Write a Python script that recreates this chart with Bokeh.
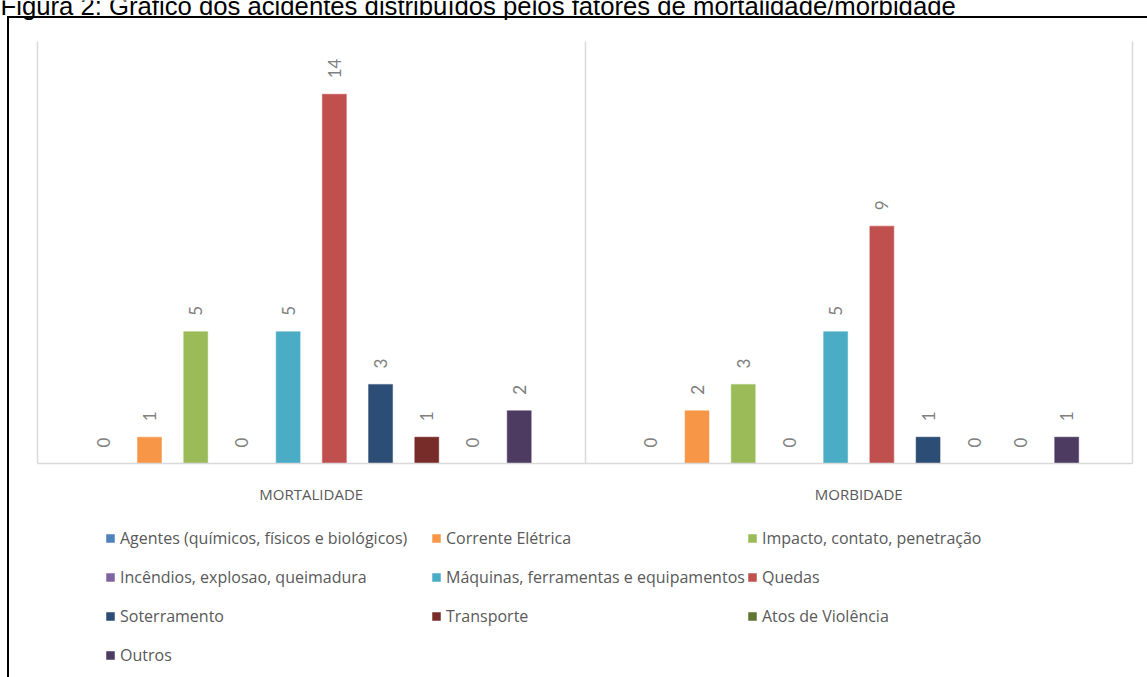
import math
from bokeh.plotting import figure
from bokeh.models import (ColumnDataSource, Range1d, FixedTicker, Legend, LegendItem,
                          InlineStyleSheet, Label)
from bokeh.core.properties import value
from bokeh.embed import file_html
from bokeh.resources import INLINE

# ---- data ----
title_text = "Figura 2: Gráfico dos acidentes distribuídos pelos fatores de mortalidade/morbidade"
categories = ["MORTALIDADE", "MORBIDADE"]
series = [
    "Agentes (químicos, físicos e biológicos)",
    "Corrente Elétrica",
    "Impacto, contato, penetração",
    "Incêndios, explosao, queimadura",
    "Máquinas, ferramentas e equipamentos",
    "Quedas",
    "Soterramento",
    "Transporte",
    "Atos de Violência",
    "Outros",
]
colors = ["#4F81BD", "#F79646", "#9BBB59", "#8064A2", "#4BACC6",
          "#C0504D", "#2C4D75", "#772C2A", "#5F7530", "#4D3B62"]
mortalidade = [0, 1, 5, 0, 5, 14, 3, 1, 0, 2]
morbidade = [0, 2, 3, 0, 5, 9, 1, 0, 0, 1]
y_max = 16

FONT = "Lato"
LEG_FONT = "Open Sans"
GRAY_TXT = "#595959"

# ---- page geometry (pixels) ----
W, H = 1147, 677
PLOT_L, PLOT_R = 37, 1132      # category area left / right
BASE_Y, TOP_Y = 463, 41        # baseline and top of value area
ncat = len(categories)
cat_px = (PLOT_R - PLOT_L) / ncat
px_per_unit = (BASE_Y - TOP_Y) / y_max

frame_css = InlineStyleSheet(css="""
:host { position: relative; }
:host::after { content: ""; position: absolute; left: 7px; top: 16px; right: 0; bottom: 0;
  border-left: 2px solid #000; border-top: 2px solid #000; pointer-events: none; }
""")

p = figure(width=W, height=H, output_backend="svg", toolbar_location=None,
           x_range=Range1d(-PLOT_L / cat_px, ncat + (W - PLOT_R) / cat_px),
           y_range=Range1d(-(H - BASE_Y) / px_per_unit, BASE_Y / px_per_unit),
           min_border=0)
p.stylesheets = [frame_css]
p.outline_line_color = None
p.background_fill_color = "white"
p.border_fill_color = "white"

# grouped bars inside each category
n = len(series)
pad = 0.078
step = (1 - 2 * pad) / n
bw = 0.0438

renderers = []
for i, name in enumerate(series):
    xs = [c + pad + step * (i + 0.5) for c in range(ncat)]
    vals = [mortalidade[i], morbidade[i]]
    src = ColumnDataSource(dict(x=xs, top=vals, lab=[str(v) for v in vals]))
    r = p.vbar(x="x", top="top", width=bw, bottom=0, source=src,
               fill_color=colors[i], line_color=colors[i], line_width=0.5)
    renderers.append(r)
    p.text(x="x", y="top", text="lab", source=src, angle=math.pi / 2,
           y_offset=-16, text_align="left", text_baseline="middle",
           text_font=value(FONT), text_font_size="17px", text_color="#808080")

# axes
p.yaxis.visible = False
p.ygrid.visible = False
p.xaxis.fixed_location = 0
p.xaxis.bounds = (0, ncat)
p.xaxis.ticker = FixedTicker(ticks=[0.5 + k for k in range(ncat)])
p.xaxis.major_label_overrides = {0.5 + k: c for k, c in enumerate(categories)}
p.xaxis.axis_line_color = "#d9d9d9"
p.xaxis.axis_line_width = 1.5
p.xaxis.major_tick_line_color = None
p.xaxis.minor_tick_line_color = None
p.xaxis.major_tick_out = 0
p.xaxis.major_label_standoff = 20
p.xaxis.major_label_text_font = LEG_FONT
p.xaxis.major_label_text_font_size = "15px"
p.xaxis.major_label_text_color = GRAY_TXT
p.xgrid.ticker = FixedTicker(ticks=list(range(ncat + 1)))
p.xgrid.grid_line_color = "#d9d9d9"
p.xgrid.grid_line_width = 1.5
p.xgrid.cross_bounds = (0, y_max)

# legends: three columns, row-major order as in reference
col_x = [105, 431, 747]
LEG_TOP = 527
ITEM_H, GAP = 22, 17
for c in range(3):
    idx = list(range(c, n, 3))
    items = [LegendItem(label=series[k], renderers=[renderers[k]]) for k in idx]
    h = len(idx) * ITEM_H + (len(idx) - 1) * GAP
    leg = Legend(items=items, location=(col_x[c], H - LEG_TOP - h),
                 orientation="vertical", border_line_color=None,
                 background_fill_alpha=0, padding=0, margin=0, spacing=GAP,
                 label_height=ITEM_H, glyph_height=10, glyph_width=10, label_standoff=5,
                 label_text_font=LEG_FONT, label_text_font_size="16px",
                 label_text_color=GRAY_TXT)
    p.add_layout(leg, "center")

p.add_layout(Label(x=0, y=5, x_units="canvas", y_units="canvas", text=title_text,
                   text_font="Liberation Sans", text_font_size="25.7px",
                   text_color="black", text_baseline="alphabetic", text_align="left"))

open("out.html", "w").write(file_html(p, INLINE))
